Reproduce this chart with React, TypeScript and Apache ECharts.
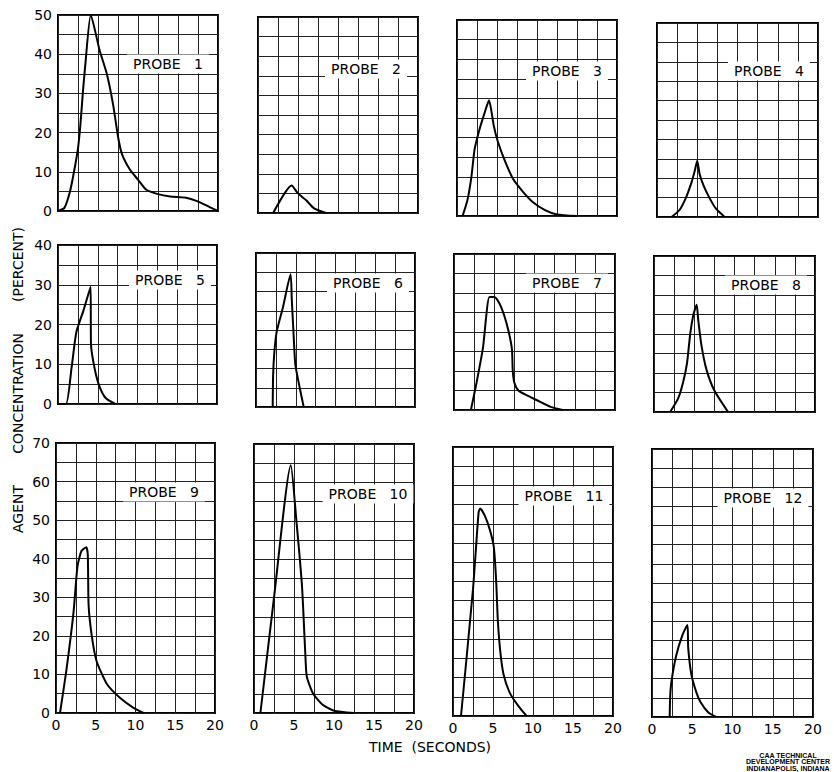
import React, { useEffect, useRef } from "react";
import * as echarts from "echarts";

// Time (s) vs agent concentration (%) for each probe
const probe1 = [[0,0],[0.8,0.8],[1.5,5],[2,10],[2.5,16],[2.8,22],[3.1,30],[3.4,37],[4.1,50],[5.2,41],[6.1,35],[6.9,27],[7.5,19],[8,14.5],[9,10.5],[10,8],[11,5.5],[12.5,4.3],[14,3.7],[16,3.4],[17.3,2.6],[20,0]];
const probe2 = [[1.9,0],[4.2,7],[5,5],[6,3.3],[7,1.2],[8.5,0]];
const probe3 = [[0.7,0],[1.3,4],[1.8,10],[2.2,17],[2.8,22],[3.4,26],[4.0,29.5],[4.6,23],[5.1,19],[6,14],[7,9.5],[8.2,6.3],[9.5,3.5],[11,1.5],[12.5,0.4],[15,0]];
const probe4 = [[1.8,0],[2.8,1.8],[3.6,5],[4.3,9],[4.7,12],[5.0,14.5],[5.3,11],[5.8,8],[6.5,5],[7.3,2.2],[8.4,0]];
const probe5 = [[0,0],[1,0],[1.7,9],[2.3,18],[3.2,23.5],[4.1,29.5],[4.15,15],[4.6,9],[5.2,4.5],[6,1.5],[7.2,0]];
const probe6 = [[2.1,0],[2.15,8],[2.3,14],[2.6,19.5],[3.4,26],[4.35,34.5],[4.5,28],[4.7,20],[4.95,11],[5.5,5],[6,0]];
const probe7 = [[2.1,0],[2.8,7],[3.6,16],[4.4,29],[5,29],[5.6,27.5],[6.2,24.5],[6.8,20],[7.2,15.5],[7.3,10],[7.5,7],[8,5],[9,3.8],[10.3,2.5],[12,0.8],[13.5,0]];
const probe8 = [[2,0],[3,3.5],[3.6,7.5],[4.1,12.5],[4.5,20],[4.9,25],[5.3,27.5],[5.5,23.5],[5.9,17],[6.5,11],[7.5,5.5],[9.2,0]];
const probe9 = [[0.5,0],[1.3,11],[2.2,26],[2.7,38],[3.2,42],[3.8,43],[4.0,41],[4.1,28],[4.5,20],[5.1,13.5],[6.4,7.5],[8,4],[9.7,1.4],[11,0]];
const probe10 = [[0.8,0],[2.5,30],[4.6,64.5],[5.3,50],[6,33],[6.4,16],[6.6,9.5],[7.4,5],[8.5,2.3],[10,0.6],[12.5,0]];
const probe11 = [[1,0],[2.5,33],[3.2,53],[3.4,54],[4,52],[4.6,48.5],[5.1,44],[5.4,35],[5.6,25],[5.9,17],[6.3,11],[7.1,6],[8.2,2.5],[9.2,0]];
const probe12 = [[2.2,0],[2.25,5],[2.4,9],[3,16],[3.8,21.5],[4.4,24],[4.5,18],[4.9,11],[5.5,6.5],[6,4],[7,1.2],[8,0]];

const probes = [probe1, probe2, probe3, probe4, probe5, probe6, probe7, probe8, probe9, probe10, probe11, probe12];
const probeNumbers = ["1", "2", "3", "4", "5", "6", "7", "8", "9", "10", "11", "12"];
const rowMax = [50, 40, 70];
const xMax = 20;
const xTickLabels = [0, 5, 10, 15, 20];
const xTitle = "TIME  (SECONDS)";
const yTitle = "AGENT       CONCENTRATION       (PERCENT)";
const footer = ["CAA TECHNICAL", "DEVELOPMENT CENTER", "INDIANAPOLIS, INDIANA"];

// layout
const panels = [
  { left: 58, top: 15, width: 160, height: 196 },
  { left: 258, top: 17, width: 160, height: 196 },
  { left: 457, top: 20, width: 160, height: 196 },
  { left: 657, top: 23, width: 161, height: 194 },
  { left: 58, top: 245, width: 159, height: 159 },
  { left: 256, top: 253, width: 159, height: 154 },
  { left: 454, top: 254, width: 161, height: 156 },
  { left: 654, top: 256, width: 161, height: 156 },
  { left: 56, top: 443, width: 159, height: 270 },
  { left: 254, top: 444, width: 160, height: 269 },
  { left: 453, top: 447, width: 160, height: 269 },
  { left: 652, top: 449, width: 161, height: 268 },
];
const labelPos = [
  [168, 64], [366, 69], [567, 71], [769, 71],
  [170, 280], [368, 283], [567, 283], [766, 285],
  [164, 492], [368, 494], [564, 496], [763, 498],
];

const FONT = "DejaVu Sans";

export default function App() {
  const ref = useRef<HTMLDivElement>(null);
  useEffect(() => {
    if (!ref.current) return;
    const chart = echarts.init(ref.current, null, { renderer: "svg" });
    const option: any = {
      animation: false,
      backgroundColor: "#fff",
      grid: panels.map((p) => ({
        ...p,
        show: true,
        borderColor: "#000",
        borderWidth: 2,
        backgroundColor: "transparent",
        containLabel: false,
      })),
      xAxis: panels.map((_, i) => ({
        type: "value",
        gridIndex: i,
        min: 0,
        max: xMax,
        interval: 2.5,
        axisLine: { show: false },
        axisTick: { show: false },
        splitLine: { show: true, lineStyle: { color: "#222", width: 1 } },
        axisLabel: {
          show: i >= 8,
          formatter: (v: number) => (xTickLabels.includes(v) ? String(v) : ""),
          color: "#000",
          fontSize: 14,
          fontFamily: FONT,
          margin: 5,
        },
      })),
      yAxis: panels.map((_, i) => ({
        type: "value",
        gridIndex: i,
        min: 0,
        max: rowMax[Math.floor(i / 4)],
        interval: 5,
        axisLine: { show: false },
        axisTick: { show: false },
        splitLine: { show: true, lineStyle: { color: "#222", width: 1 } },
        axisLabel: {
          show: i % 4 === 0,
          formatter: (v: number) => (v % 10 === 0 ? String(v) : ""),
          color: "#000",
          fontSize: 14,
          fontFamily: FONT,
          margin: 6,
        },
      })),
      series: probes.map((d, i) => ({
        type: "line",
        name: "PROBE " + probeNumbers[i],
        xAxisIndex: i,
        yAxisIndex: i,
        data: d,
        showSymbol: false,
        smooth: 0.2,
        lineStyle: { color: "#000", width: 2 },
        z: 5,
      })),
      graphic: [
        ...probeNumbers.map((n, i) => ({
          type: "text",
          x: labelPos[i][0],
          y: labelPos[i][1],
          z: 10,
          style: {
            text: "PROBE   " + n,
            fill: "#000",
            font: `14px "${FONT}"`,
            align: "center",
            verticalAlign: "middle",
            backgroundColor: "#fff",
            padding: [3, 6, 2, 6],
          },
        })),
        {
          type: "text",
          x: 18,
          y: 380,
          rotation: Math.PI / 2,
          style: {
            text: yTitle,
            fill: "#000",
            font: `14px "${FONT}"`,
            align: "center",
            verticalAlign: "middle",
          },
        },
        {
          type: "text",
          x: 430,
          y: 747,
          style: {
            text: xTitle,
            fill: "#000",
            font: `14px "${FONT}"`,
            align: "center",
            verticalAlign: "middle",
          },
        },
        ...footer.map((t, i) => ({
          type: "text",
          x: 788,
          y: 755 + i * 6.5,
          style: {
            text: t,
            fill: "#000",
            font: `bold 7px "Liberation Sans"`,
            align: "center",
            verticalAlign: "middle",
          },
        })),
      ],
    };
    chart.setOption(option);
    return () => chart.dispose();
  }, []);
  return (
    <div
      ref={ref}
      style={{ position: "fixed", left: 0, top: 0, width: 834, height: 772 }}
    />
  );
}
